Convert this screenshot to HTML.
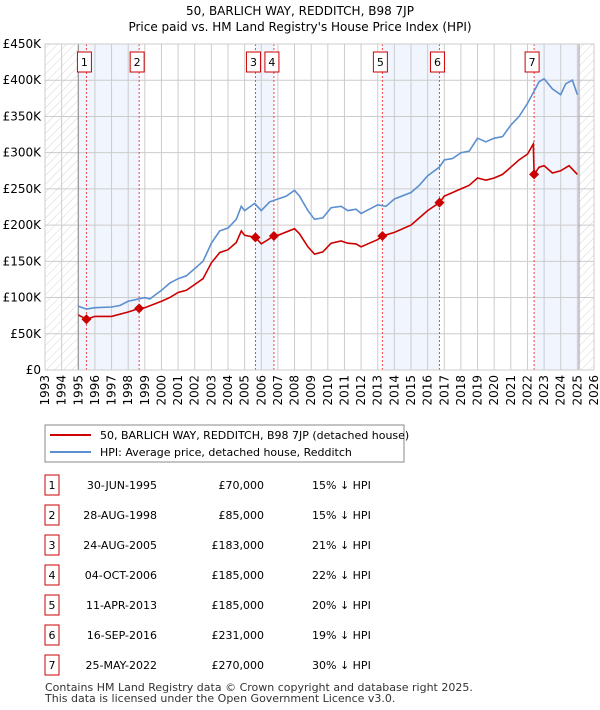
<!DOCTYPE html>
<html><head><meta charset="utf-8"><style>
body{margin:0;background:#fff;font-family:"Liberation Sans","DejaVu Sans",sans-serif;}
svg{display:block}
</style></head><body>
<svg id="c" width="600" height="710" font-family="DejaVu Sans, Liberation Sans, sans-serif">
<defs><pattern id="h" width="6" height="6" patternUnits="userSpaceOnUse" patternTransform="rotate(45)"><line x1="0" y1="0" x2="0" y2="6" stroke="#ccc" stroke-width="0.8"/></pattern></defs>
<text x="300" y="15" text-anchor="middle" font-size="12">50, BARLICH WAY, REDDITCH, B98 7JP</text>
<text x="300" y="31" text-anchor="middle" font-size="12">Price paid vs. HM Land Registry's House Price Index (HPI)</text>
<g id="plot"></g>
<rect x="45" y="425" width="359" height="37" fill="#fff" stroke="#888"/>
<line x1="50" y1="435" x2="91" y2="435" stroke="#cc0000" stroke-width="2"/>
<text x="100" y="439" font-size="11">50, BARLICH WAY, REDDITCH, B98 7JP (detached house)</text>
<line x1="50" y1="452" x2="91" y2="452" stroke="#5b8fd0" stroke-width="2"/>
<text x="100" y="456" font-size="11">HPI: Average price, detached house, Redditch</text>
<g id="tbl"></g>
<text x="45" y="691" font-size="11" fill="#333">Contains HM Land Registry data © Crown copyright and database right 2025.</text>
<text x="45" y="702" font-size="11" fill="#333">This data is licensed under the Open Government Licence v3.0.</text>
</svg>
<script>
const hpiYears=[1995.0,1995.5,1996,1997,1997.5,1998,1999,1999.3,2000,2000.5,2001,2001.5,2002,2002.5,2003,2003.5,2004,2004.5,2004.8,2005,2005.6,2006,2006.5,2007,2007.5,2008,2008.3,2008.8,2009.2,2009.7,2010.2,2010.8,2011.2,2011.7,2012,2012.5,2013,2013.5,2014,2015,2015.5,2016,2016.7,2017,2017.5,2018,2018.5,2019,2019.5,2020,2020.5,2021,2021.5,2022,2022.4,2022.7,2023,2023.5,2024,2024.3,2024.7,2025.0];
const hpiValues=[88,84,86,87,89,95,100,98,110,120,126,130,140,150,175,192,196,208,226,220,230,220,232,236,240,248,240,220,208,210,224,226,220,222,216,222,228,226,236,245,255,268,280,290,292,300,302,320,315,320,322,338,350,368,385,398,402,388,380,395,400,380];
const propYears=[1995.0,1995.49,1996,1997,1998,1998.66,1999,2000,2000.5,2001,2001.5,2002,2002.5,2003,2003.5,2004,2004.5,2004.8,2005,2005.65,2006,2006.76,2007,2008,2008.3,2008.8,2009.2,2009.7,2010.2,2010.8,2011.2,2011.7,2012,2012.5,2013,2013.28,2014,2015,2015.5,2016,2016.71,2017,2018,2018.5,2019,2019.5,2020,2020.5,2021,2021.5,2022,2022.35,2022.4,2022.7,2023,2023.5,2024,2024.5,2025];
const propValues=[76,70,74,74,80,85,86,95,100,107,110,118,126,148,162,166,176,192,186,183,174,185,186,195,188,170,160,163,175,178,175,174,170,175,180,185,190,200,210,220,231,240,250,255,265,262,265,270,280,290,298,312,270,280,282,272,275,282,270];
const saleYears=[1995.49,1998.66,2005.65,2006.76,2013.28,2016.71,2022.4];
const salePrices=[70,85,183,185,185,231,270];
const saleDates=["30-JUN-1995","28-AUG-1998","24-AUG-2005","04-OCT-2006","11-APR-2013","16-SEP-2016","25-MAY-2022"];
const salePriceLabels=["£70,000","£85,000","£183,000","£185,000","£185,000","£231,000","£270,000"];
const saleHpi=["15% ↓ HPI","15% ↓ HPI","21% ↓ HPI","22% ↓ HPI","20% ↓ HPI","19% ↓ HPI","30% ↓ HPI"];
const yTicks=[0,50,100,150,200,250,300,350,400,450];
const yTickLabels=["£0","£50K","£100K","£150K","£200K","£250K","£300K","£350K","£400K","£450K"];
const NS="http://www.w3.org/2000/svg";
const X0=45,X1=594,Y0=370,Y1=44,T0=1993,T1=2026,VMAX=450,DATA_END=2025.1;
const xs=t=>X0+(t-T0)/(T1-T0)*(X1-X0);
const ys=v=>Y0-v/VMAX*(Y0-Y1);
const g=document.getElementById('plot');
function mk(tag,at,par){const e=document.createElementNS(NS,tag);for(const k in at)e.setAttribute(k,at[k]);(par||g).appendChild(e);return e;}
const bands=[[1995,saleYears[1]],[saleYears[2],saleYears[3]],[saleYears[4],saleYears[5]],[saleYears[6],DATA_END]];
bands.forEach((b,i)=>{const r=mk('rect',{x:xs(b[0]),y:Y1,width:xs(b[1])-xs(b[0]),height:Y0-Y1,fill:'#eef3fc',opacity:0.8});

});
let r=mk('rect',{x:X0,y:Y1,width:xs(1995)-X0,height:Y0-Y1,fill:'url(#h)'});


r=mk('rect',{x:xs(DATA_END),y:Y1,width:X1-xs(DATA_END),height:Y0-Y1,fill:'url(#h)'});


for(let t=T0;t<=T1;t++){mk('line',{x1:xs(t),x2:xs(t),y1:Y1,y2:Y0,stroke:'#ccc','stroke-width':1});
const tx=mk('text',{x:0,y:0,'font-size':12,'text-anchor':'end',transform:`translate(${xs(t)+4},${Y0+5}) rotate(-90)`});tx.textContent=t;

}
yTicks.forEach((v,i)=>{mk('line',{x1:X0,x2:X1,y1:ys(v),y2:ys(v),stroke:'#ccc','stroke-width':1});
const tx=mk('text',{x:X0-4,y:ys(v)+4,'font-size':12,'text-anchor':'end'});tx.textContent=yTickLabels[i];

});
mk('line',{x1:xs(1995),x2:xs(1995),y1:Y1,y2:Y0,stroke:'#888'});
mk('line',{x1:xs(DATA_END),x2:xs(DATA_END),y1:Y1,y2:Y0,stroke:'#999'});
saleYears.forEach(t=>mk('line',{x1:xs(t),x2:xs(t),y1:Y1,y2:Y0,stroke:'#ee4444','stroke-dasharray':'2,2','stroke-width':1}));
function path(xa,va){return xa.map((t,i)=>(i?'L':'M')+xs(t).toFixed(1)+','+ys(va[i]).toFixed(1)).join('');}
let p=mk('path',{d:path(hpiYears,hpiValues),fill:'none',stroke:'#5b8fd0','stroke-width':1.6});


p=mk('path',{d:path(propYears,propValues),fill:'none',stroke:'#cc0000','stroke-width':1.6});


saleYears.forEach((t,i)=>{const x=xs(t),y=ys(salePrices[i]);
const d=mk('path',{d:`M${x-5},${y}L${x},${y-5}L${x+5},${y}L${x},${y+5}Z`,fill:'#cc0000'});


const bx=mk('rect',{x:x-9,y:52,width:14,height:20,fill:'#fff',stroke:'#cc0000'});


const tx=mk('text',{x:x-2,y:66,'font-size':11,'text-anchor':'middle'});tx.textContent=i+1;

});
mk('rect',{x:X0,y:Y1,width:X1-X0,height:Y0-Y1,fill:'none',stroke:'#ccc'});
const tb=document.getElementById('tbl');
saleDates.forEach((d,i)=>{const y=475+i*30;
const row=mk('g',{},tb);


mk('rect',{x:45,y:y,width:14,height:20,fill:'#fff',stroke:'#cc0000'},row);
let t=mk('text',{x:52,y:y+14,'font-size':11,'text-anchor':'middle'},row);t.textContent=i+1;
t=mk('text',{x:157,y:y+14,'font-size':11,'text-anchor':'end'},row);t.textContent=d;
t=mk('text',{x:264,y:y+14,'font-size':11,'text-anchor':'end'},row);t.textContent=salePriceLabels[i];
t=mk('text',{x:312,y:y+14,'font-size':11},row);t.textContent=saleHpi[i];});
</script>
</body></html>
